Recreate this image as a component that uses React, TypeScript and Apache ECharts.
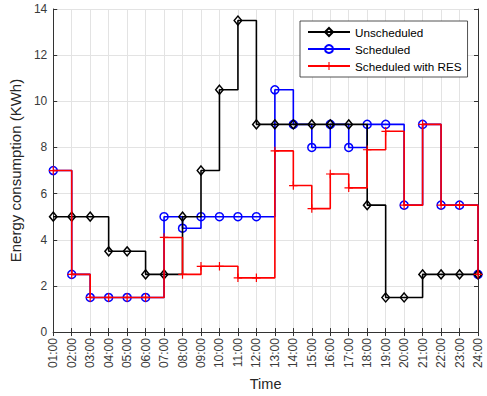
import React, { useEffect, useRef } from "react";
import * as echarts from "echarts";

const hours = [
  "01:00", "02:00", "03:00", "04:00", "05:00", "06:00", "07:00", "08:00",
  "09:00", "10:00", "11:00", "12:00", "13:00", "14:00", "15:00", "16:00",
  "17:00", "18:00", "19:00", "20:00", "21:00", "22:00", "23:00", "24:00",
];
const unscheduled = [5, 5, 5, 3.5, 3.5, 2.5, 2.5, 5, 7, 10.5, 13.5, 9, 9, 9, 9, 9, 9, 5.5, 1.5, 1.5, 2.5, 2.5, 2.5, 2.5];
const scheduled = [7, 2.5, 1.5, 1.5, 1.5, 1.5, 5, 4.5, 5, 5, 5, 5, 10.5, 9, 8, 9, 8, 9, 9, 5.5, 9, 5.5, 5.5, 2.5];
const scheduledRES = [7, 2.5, 1.5, 1.5, 1.5, 1.5, 4.1, 2.5, 2.85, 2.85, 2.35, 2.35, 7.85, 6.35, 5.35, 6.85, 6.25, 7.9, 8.7, 5.5, 9, 5.5, 5.5, 2.5];
const seriesNames = ["Unscheduled", "Scheduled", "Scheduled with RES"];
const yMin = 0;
const yMax = 14;
const yStep = 2;

const FONT = "'Liberation Sans', Arial, Helvetica, sans-serif";
const AXIS_COLOR = "#333333";
const GRID_COLOR = "#e3e3e3";
const PLUS = "path://M4.3,0H5.7V4.3H10V5.7H5.7V10H4.3V5.7H0V4.3H4.3Z";

export default function App() {
  const ref = useRef<HTMLDivElement>(null);

  useEffect(() => {
    if (!ref.current) return;
    const chart = echarts.init(ref.current, null, { renderer: "svg" });
    const baseX = {
      type: "category" as const,
      data: hours,
      boundaryGap: false,
    };
    const option = {
      animation: false,
      backgroundColor: "#ffffff",
      textStyle: { fontFamily: FONT },
      grid: { left: 49, right: 9, top: 9, bottom: 60, containLabel: false },
      legend: {
        orient: "vertical",
        left: 300,
        top: 21,
        padding: [5, 6, 5, 7],
        itemWidth: 42,
        itemHeight: 10,
        itemGap: 5,
        backgroundColor: "#ffffff",
        borderColor: "#262626",
        borderWidth: 0.8,
        textStyle: { fontFamily: FONT, fontSize: 11.7, color: "#000000" },
        data: seriesNames,
      },
      xAxis: [
        {
          ...baseX,
          position: "bottom",
          name: "Time",
          nameLocation: "middle",
          nameGap: 40,
          nameTextStyle: { fontFamily: FONT, fontSize: 14.5, color: "#262626" },
          axisLine: { show: true, lineStyle: { color: AXIS_COLOR, width: 1 } },
          axisTick: { show: true, inside: true, length: 4, interval: 0, lineStyle: { color: AXIS_COLOR } },
          axisLabel: { rotate: 90, interval: 0, margin: 6, fontSize: 12, color: "#3a3a3a", fontFamily: FONT },
          splitLine: { show: true, interval: 0, lineStyle: { color: GRID_COLOR, width: 1 } },
        },
        {
          ...baseX,
          position: "top",
          axisLine: { show: true, lineStyle: { color: AXIS_COLOR, width: 1 } },
          axisTick: { show: true, inside: true, length: 4, interval: 0, lineStyle: { color: AXIS_COLOR } },
          axisLabel: { show: false },
          splitLine: { show: false },
        },
      ],
      yAxis: [
        {
          type: "value",
          min: yMin,
          max: yMax,
          interval: yStep,
          position: "left",
          name: "Energy consumption (KWh)",
          nameLocation: "middle",
          nameGap: 25,
          nameTextStyle: { fontFamily: FONT, fontSize: 15, color: "#262626" },
          axisLine: { show: true, lineStyle: { color: AXIS_COLOR, width: 1 } },
          axisTick: { show: true, inside: true, length: 4, lineStyle: { color: AXIS_COLOR } },
          axisLabel: { margin: 6, fontSize: 12, color: "#3a3a3a", fontFamily: FONT },
          splitLine: { show: true, lineStyle: { color: GRID_COLOR, width: 1 } },
        },
        {
          type: "value",
          min: yMin,
          max: yMax,
          interval: yStep,
          position: "right",
          axisLine: { show: true, lineStyle: { color: AXIS_COLOR, width: 1 } },
          axisTick: { show: true, inside: true, length: 4, lineStyle: { color: AXIS_COLOR } },
          axisLabel: { show: false },
          splitLine: { show: false },
        },
      ],
      series: [
        {
          name: seriesNames[0],
          type: "line",
          step: "end",
          data: unscheduled,
          symbol: "diamond",
          symbolSize: [7.5, 9],
          showAllSymbol: true,
          lineStyle: { color: "#000000", width: 1.6 },
          itemStyle: { color: "rgba(255,255,255,0)", borderColor: "#000000", borderWidth: 1.5 },
          z: 3,
        },
        {
          name: seriesNames[1],
          type: "line",
          step: "end",
          data: scheduled,
          symbol: "circle",
          symbolSize: 8,
          showAllSymbol: true,
          lineStyle: { color: "#0000ff", width: 1.6 },
          itemStyle: { color: "rgba(255,255,255,0)", borderColor: "#0000ff", borderWidth: 1.5 },
          z: 2,
        },
        {
          name: seriesNames[2],
          type: "line",
          step: "end",
          data: scheduledRES,
          symbol: PLUS,
          symbolSize: 8.5,
          showAllSymbol: true,
          lineStyle: { color: "#ff0000", width: 1.6 },
          itemStyle: { color: "#ff0000", borderWidth: 0 },
          z: 4,
        },
      ],
    };
    chart.setOption(option as any);
    return () => chart.dispose();
  }, []);

  return <div ref={ref} style={{ width: 487, height: 396, position: "absolute", left: 0, top: 0 }} />;
}
